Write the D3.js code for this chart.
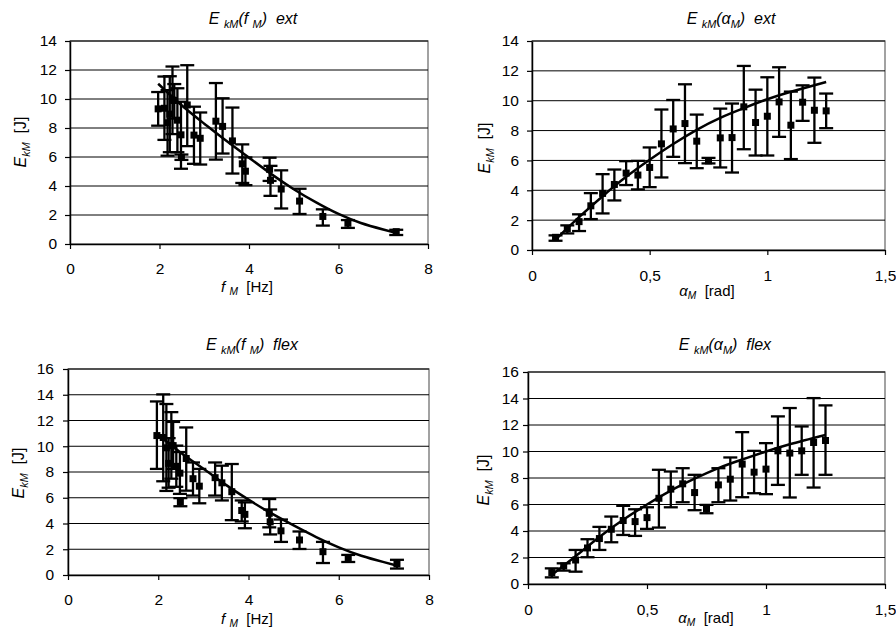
<!DOCTYPE html>
<html lang="en">
<head>
  <meta charset="utf-8">
  <title>EkM panels</title>
  <script src="https://d3js.org/d3.v7.min.js"></script>
  <style>
    body { margin: 0; background: #fff; }
    svg { display: block; font-family: "Liberation Sans", Arial, sans-serif; }
    svg text { white-space: pre; }
    .tick text { font-size: 15.5px; fill: #000; }
  </style>
</head>
<body>
<script>
  // measurement points: angle, frequency (same trials)
  var alphaM = [0.1, 0.15, 0.2, 0.25, 0.3, 0.35, 0.4, 0.45, 0.5, 0.55, 0.6, 0.65,
                0.7, 0.75, 0.8, 0.85, 0.9, 0.95, 1.0, 1.05, 1.1, 1.15, 1.2, 1.25];
  var freqM  = [7.29, 6.21, 5.65, 5.13, 4.72, 4.48, 4.46, 3.92, 3.85, 3.63, 3.41, 3.26,
                2.91, 2.49, 2.77, 2.48, 2.62, 2.40, 2.23, 2.29, 2.18, 2.33, 2.11, 1.97];

  // extension: mean, upper and lower error bar ends [J]
  var extE  = [0.85, 1.43, 1.9, 2.96, 3.79, 4.39, 5.15, 5.02, 5.53, 7.11, 8.11, 8.47,
               7.29, 5.97, 7.51, 7.53, 9.59, 8.54, 8.96, 9.92, 8.36, 9.9, 9.36, 9.32];
  var extHi = [0.98, 1.65, 2.39, 3.81, 5.08, 5.39, 5.95, 5.97, 6.87, 9.41, 10.05, 11.1,
               9.07, 6.17, 9.47, 9.81, 12.33, 10.74, 11.57, 12.24, 10.61, 11.03, 11.55, 10.48];
  var extLo = [0.62, 1.11, 1.27, 2.07, 2.45, 3.32, 4.35, 4.06, 4.21, 4.86, 6.24, 5.82,
               5.48, 5.8, 5.53, 5.19, 6.75, 6.33, 6.33, 7.58, 6.09, 8.65, 7.18, 8.16];

  // flexion
  var flexE  = [0.86, 1.36, 1.81, 2.72, 3.43, 4.13, 4.79, 4.71, 5.01, 6.47, 7.16, 7.56,
                6.9, 5.67, 7.48, 7.91, 9.05, 8.44, 8.67, 10.05, 9.88, 10.05, 10.68, 10.83];
  var flexHi = [1.18, 1.56, 2.57, 3.38, 4.31, 5.09, 5.9, 5.64, 5.79, 8.62, 8.49, 8.74,
                8.24, 5.97, 8.74, 9.55, 11.46, 10.05, 10.63, 12.65, 13.28, 11.89, 14.03, 13.48];
  var flexLo = [0.5, 1.01, 0.93, 2.02, 2.57, 3.15, 3.7, 3.63, 4.16, 4.26, 5.79, 6.17,
                5.57, 5.34, 6.17, 6.3, 6.55, 6.85, 6.78, 7.48, 6.53, 8.24, 7.28, 8.24];

  // trend lines
  var trendF       = [1.97, 2.5, 3.0, 3.5, 4.0, 4.5, 5.0, 5.5, 6.0, 6.5, 7.0, 7.3];
  var trendExtF    = [11.05, 9.55, 8.3, 7.1, 5.95, 4.82, 3.78, 2.87, 2.07, 1.45, 1.0, 0.75];
  var trendFlexF   = [10.95, 9.5, 8.25, 7.0, 5.85, 4.8, 3.85, 2.95, 2.15, 1.5, 1.0, 0.72];
  var trendA       = [0.1, 0.2, 0.3, 0.4, 0.5, 0.6, 0.7, 0.8, 0.9, 1.0, 1.1, 1.25];
  var trendExtA    = [0.7, 2.2, 3.6, 4.9, 6.05, 7.1, 8.05, 8.85, 9.5, 10.1, 10.6, 11.25];
  var trendFlexA   = [0.7, 2.1, 3.55, 4.85, 6.0, 7.05, 7.95, 8.75, 9.4, 10.0, 10.55, 11.25];

  var fTicks = [0, 2, 4, 6, 8];
  var aTicks = [0, 0.5, 1, 1.5];
  var aTickLabels = ["0", "0,5", "1", "1,5"];
  var extTicks = [0, 2, 4, 6, 8, 10, 12, 14];
  var flexTicks = [0, 2, 4, 6, 8, 10, 12, 14, 16];

  var svg = d3.select("body").append("svg")
    .attr("width", 896)
    .attr("height", 629);

  var panels = [
    {x0: 70, x1: 428, y0: 244, y1: 41, xs: freqM, E: extE, hi: extHi, lo: extLo,
     tx: trendF, ty: trendExtF, xMax: 8, yMax: 14, xt: fTicks, yt: extTicks, kind: "f", mode: "ext",
     title: [253, 24], ytitle: [26, 142], xtitle: [247, 292], xPad: 13.5, yPad: 8},
    {x0: 532, x1: 885, y0: 250, y1: 41, xs: alphaM, E: extE, hi: extHi, lo: extLo,
     tx: trendA, ty: trendExtA, xMax: 1.5, yMax: 14, xt: aTicks, yt: extTicks, kind: "a", mode: "ext",
     title: [731, 24], ytitle: [490, 148], xtitle: [707, 296], xPad: 15, yPad: 8},
    {x0: 68, x1: 429, y0: 575, y1: 369, xs: freqM, E: flexE, hi: flexHi, lo: flexLo,
     tx: trendF, ty: trendFlexF, xMax: 8, yMax: 16, xt: fTicks, yt: flexTicks, kind: "f", mode: "flex",
     title: [252, 350], ytitle: [24, 473], xtitle: [247, 624], xPad: 13.5, yPad: 9},
    {x0: 528, x1: 885, y0: 584, y1: 372, xs: alphaM, E: flexE, hi: flexHi, lo: flexLo,
     tx: trendA, ty: trendFlexA, xMax: 1.5, yMax: 16, xt: aTicks, yt: flexTicks, kind: "a", mode: "flex",
     title: [725, 350], ytitle: [489, 480], xtitle: [706, 623], xPad: 14.5, yPad: 4}
  ];

  // subscript helper: appends parts [text, italic, sub]
  function rich(sel, parts, size) {
    var prevSub = false;
    parts.forEach(function(p) {
      var t = sel.append("tspan").text(p[0])
        .attr("font-style", p[1] ? "italic" : "normal")
        .attr("font-size", p[2] ? size * 0.68 : size);
      if (p[2] && !prevSub) t.attr("dy", size * 0.22);
      if (!p[2] && prevSub) t.attr("dy", -size * 0.22);
      prevSub = p[2];
    });
  }

  panels.forEach(function(p) {
    var x = d3.scaleLinear().domain([0, p.xMax]).range([p.x0, p.x1]);
    var y = d3.scaleLinear().domain([0, p.yMax]).range([p.y0, p.y1]);
    var g = svg.append("g");

    // plot area border
    g.append("rect")
      .attr("x", p.x0).attr("y", p.y1)
      .attr("width", p.x1 - p.x0).attr("height", p.y0 - p.y1)
      .attr("fill", "none").attr("stroke", "#707070").attr("stroke-width", 1.3);

    // gridlines
    g.selectAll(".grid").data(p.yt.filter(function(v) { return v > 0; }))
      .enter().append("line")
      .attr("x1", p.x0).attr("x2", p.x1)
      .attr("y1", function(d) { return y(d); }).attr("y2", function(d) { return y(d); })
      .attr("stroke", "#000").attr("stroke-width", 1);

    var yAxis = g.append("g").attr("transform", "translate(" + p.x0 + ",0)")
      .call(d3.axisLeft(y).tickValues(p.yt).tickSize(5).tickPadding(p.yPad).tickSizeOuter(0));
    var xAxis = g.append("g").attr("transform", "translate(0," + p.y0 + ")")
      .call(d3.axisBottom(x).tickValues(p.xt).tickSize(5).tickPadding(p.xPad).tickSizeOuter(0)
        .tickFormat(function(d, i) { return p.kind === "a" ? aTickLabels[i] : d; }));
    [yAxis, xAxis].forEach(function(a) {
      a.select(".domain").attr("stroke", "#000").attr("stroke-width", 1.5);
      a.selectAll(".tick line").attr("stroke", "#000").attr("stroke-width", 1.2);
    });

    // trend line
    var line = d3.line()
      .x(function(d) { return x(d[0]); })
      .y(function(d) { return y(d[1]); })
      .curve(d3.curveNatural);
    var tdata = p.tx.map(function(v, i) { return [v, p.ty[i]]; });
    g.append("path").datum(tdata)
      .attr("d", line)
      .attr("fill", "none").attr("stroke", "#000").attr("stroke-width", 2.5);

    // error bars and markers
    var pts = p.xs.map(function(v, i) { return {x: v, e: p.E[i], hi: p.hi[i], lo: p.lo[i]}; });
    var eb = g.selectAll(".eb").data(pts).enter().append("g");
    eb.append("line")
      .attr("x1", function(d) { return x(d.x); }).attr("x2", function(d) { return x(d.x); })
      .attr("y1", function(d) { return y(d.hi); }).attr("y2", function(d) { return y(d.lo); })
      .attr("stroke", "#000").attr("stroke-width", 2.3);
    ["hi", "lo"].forEach(function(k) {
      eb.append("line")
        .attr("x1", function(d) { return x(d.x) - 7; }).attr("x2", function(d) { return x(d.x) + 7; })
        .attr("y1", function(d) { return y(d[k]); }).attr("y2", function(d) { return y(d[k]); })
        .attr("stroke", "#000").attr("stroke-width", 2.3);
    });
    eb.append("rect")
      .attr("x", function(d) { return x(d.x) - 3.5; })
      .attr("y", function(d) { return y(d.e) - 3.5; })
      .attr("width", 7).attr("height", 7)
      .attr("fill", "#000");

    // titles
    var varPart = p.kind === "f" ? ["f ", true, false] : ["\u03b1", true, false];
    var t = g.append("text").attr("x", p.title[0]).attr("y", p.title[1])
      .attr("text-anchor", "middle").attr("font-style", "italic");
    rich(t, [["E ", true, false], ["kM", true, true], ["(", true, false], varPart,
             ["M", true, true], [")  " + p.mode, true, false]], 16);

    var yt = g.append("text")
      .attr("transform", "translate(" + p.ytitle[0] + "," + p.ytitle[1] + ") rotate(-90)")
      .attr("text-anchor", "middle");
    rich(yt, [["E", true, false], ["kM", true, true], ["  [J]", false, false]], 16);

    var xt = g.append("text").attr("x", p.xtitle[0]).attr("y", p.xtitle[1])
      .attr("text-anchor", "middle");
    rich(xt, [varPart, ["M", true, true],
              [p.kind === "f" ? "  [Hz]" : "  [rad]", false, false]], 15);
  });
</script>
</body>
</html>
